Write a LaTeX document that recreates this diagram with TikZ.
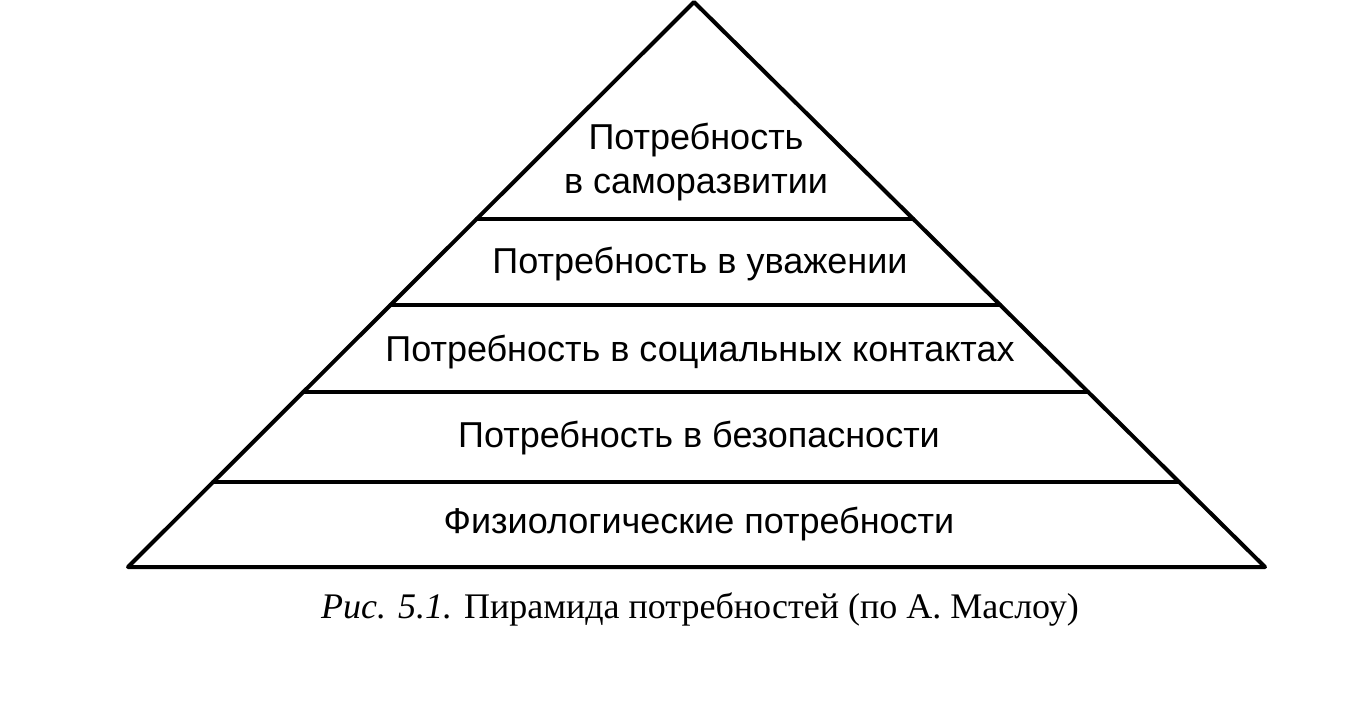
\documentclass[tikz,border=0pt]{standalone}
\usepackage{fontspec}
\setmainfont{Liberation Serif}
\setsansfont{Liberation Sans}
\usepackage{tikz}
\usetikzlibrary{calc}

\tikzset{
  level/.style={font=\sffamily\fontsize{18}{22}\selectfont, align=center, inner sep=0pt},
  edge/.style={line width=2pt, line join=round, line cap=round}
}

\begin{document}
\begin{tikzpicture}[x=0.5pt, y=-0.5pt]
    \useasboundingbox (0,0) rectangle (1361,703);
    % corners of the pyramid
    \coordinate (apex) at (694,2);
    \coordinate (bl) at (128,567);
    \coordinate (br) at (1265,567);
    \draw[edge] (bl) -- (apex) -- (br) -- cycle;
    % layer borders
    \foreach \y/\name in {219/a, 305/b, 392/c, 482/d}{
      \pgfmathsetmacro{\t}{(\y-2)/565}
      \coordinate (l\name) at ($(apex)!\t!(bl)$);
      \coordinate (r\name) at ($(apex)!\t!(br)$);
      \draw[edge] (l\name) -- (r\name);
    }
    % labels
    \node[level] (self) at (696,162) {Потребность\\в саморазвитии};
    \node[level] (esteem) at (700,264) {Потребность в уважении};
    \node[level] (social) at (700,352) {Потребность в социальных контактах};
    \node[level] (safety) at (699,438) {Потребность в безопасности};
    \node[level] (phys) at (699,524) {Физиологические потребности};
    \node[font=\fontsize{18}{22}\selectfont, inner sep=0pt] (caption) at (700,609)
      {\textit{Рис. 5.1.} Пирамида потребностей (по А. Маслоу)};
\end{tikzpicture}
\end{document}
